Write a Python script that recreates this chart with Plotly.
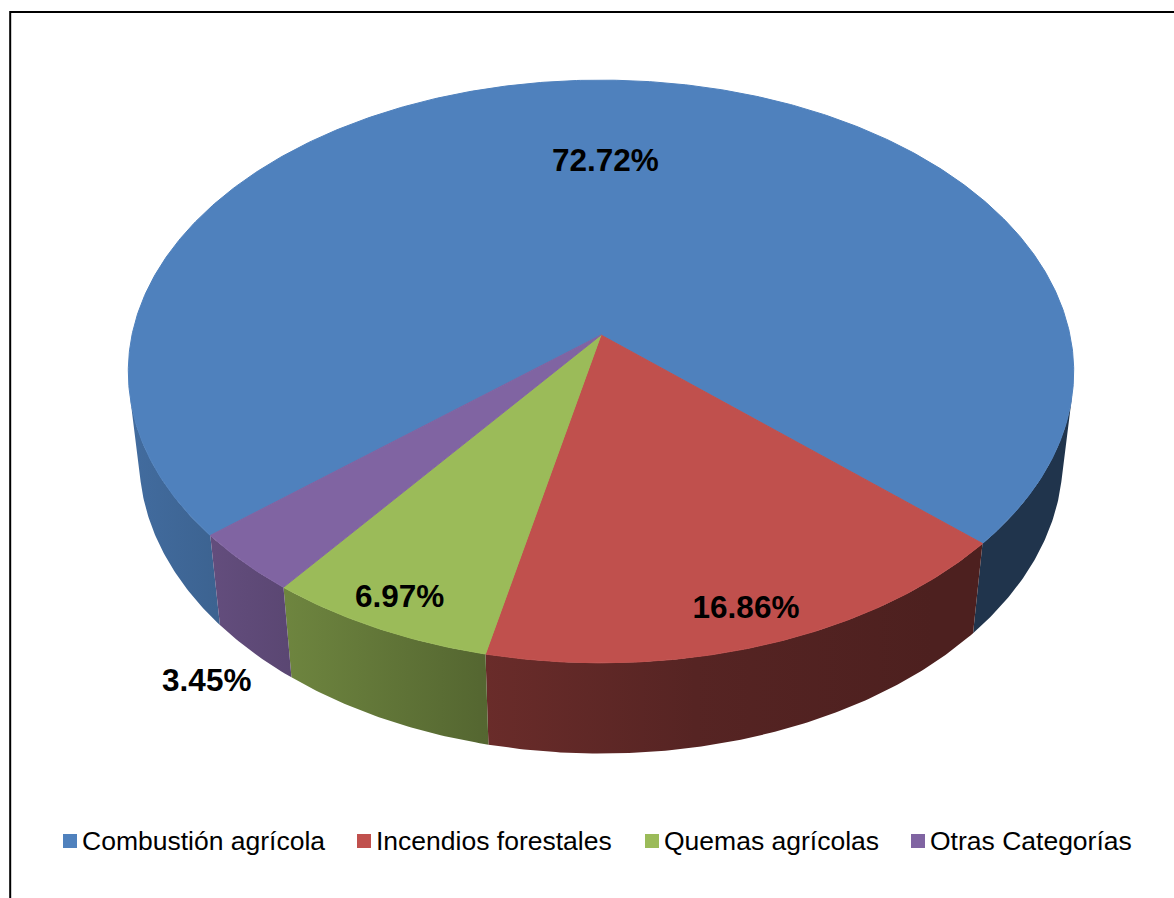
import numpy as np
import plotly.graph_objects as go

# ---- data -------------------------------------------------------------
categories = ["Combustión agrícola", "Incendios forestales", "Quemas agrícolas", "Otras Categorías"]
shares = [72.72, 16.86, 6.97, 3.45]
top_colors = ["#4F81BD", "#C0504D", "#9BBB59", "#8064A2"]

# ---- 3-D pie geometry (figure pixel space) -----------------------------
W, H = 1174, 898
CX, CY = 601.0, 335.0          # screen position of the pie centre
SCALE = 2964.0                 # focal length * pixel scale
DIST = 6.32                    # camera distance (in pie radii)
TILT = np.radians(37.7)        # camera elevation
THICK = 0.24                   # pie thickness (in pie radii)
FIRST_ANGLE = 230.0            # clockwise from the far edge

# label placement per slice: radius and height
label_r = [0.65, 0.90, 0.91, 1.12]
label_z = [0.0, 0.0, 0.0, -THICK]

# side shading: (fraction across pie width, brightness factor)
shade_stops = [(0.0, 0.84), (0.166, 0.71), (0.372, 0.55), (0.60, 0.45), (0.85, 0.40), (1.0, 0.40)]

# legend row: left edge of each key square, row centre, square size
legend_left = [63, 357, 645, 911]
legend_y = 841
legend_box = 14
FONT = "Liberation Sans, Arial"


def project(phi_deg, r, z):
    phi = np.radians(phi_deg)
    s, c = np.sin(TILT), np.cos(TILT)
    px = r * np.sin(phi)
    py = r * np.cos(phi)
    depth = DIST + py * c - z * s
    up = py * s + z * c
    return CX + SCALE * px / depth, CY - SCALE * up / depth


def hex_rgb(h):
    h = h.lstrip("#")
    return tuple(int(h[i:i + 2], 16) for i in (0, 2, 4))


def shaded(hexcol, f):
    r, g, b = hex_rgb(hexcol)
    return f"rgb({round(r * f)},{round(g * f)},{round(b * f)})"


def arc(a, b, r, z, step=0.5):
    n = max(int(abs(b - a) / step), 2) + 1
    ang = np.linspace(a, b, n)
    return project(ang, r, z)


# slice angular extents
total = sum(shares)
starts, ends = [], []
acc = FIRST_ANGLE
for v in shares:
    starts.append(acc)
    acc += 360.0 * v / total
    ends.append(acc)

# range of the rim that faces the camera
vis = np.degrees(np.arccos(-1.0 / (DIST * np.cos(TILT))))
vis_lo, vis_hi = vis, 360.0 - vis

# horizontal extent of the pie for the side gradient
ring_x, _ = arc(0, 360, 1.0, 0.0)
x_min, x_max = float(ring_x.min()), float(ring_x.max())

fig = go.Figure()

# rim (side walls) of every slice, front part only
for i, col in enumerate(top_colors):
    a, b = starts[i], ends[i]
    for k in (-360.0, 0.0, 360.0):
        lo = max(a, vis_lo + k)
        hi = min(b, vis_hi + k)
        if hi <= lo:
            continue
        tx, ty = arc(lo, hi, 1.0, 0.0)
        bx, by = arc(hi, lo, 1.0, -THICK)
        xs = np.concatenate([tx, bx, tx[:1]])
        ys = np.concatenate([ty, by, ty[:1]])
        fig.add_trace(go.Scatter(
            x=xs, y=ys, mode="lines", fill="toself",
            line=dict(width=0),
            fillgradient=dict(
                type="horizontal", start=x_min, stop=x_max,
                colorscale=[[p, shaded(col, f)] for p, f in shade_stops],
            ),
            hoverinfo="skip", showlegend=False,
        ))

# top faces
for i, col in enumerate(top_colors):
    ax, ay = arc(starts[i], ends[i], 1.0, 0.0)
    ox, oy = project(0.0, 0.0, 0.0)
    xs = np.concatenate([[ox], ax, [ox]])
    ys = np.concatenate([[oy], ay, [oy]])
    fig.add_trace(go.Scatter(
        x=xs, y=ys, mode="lines", fill="toself",
        fillcolor=col, line=dict(width=1, color=col),
        name=categories[i], hoverinfo="skip", showlegend=False,
    ))

# percentage labels
lx, ly, lt = [], [], []
for i, v in enumerate(shares):
    mid = (starts[i] + ends[i]) / 2.0
    x, y = project(mid, label_r[i], label_z[i])
    lx.append(x)
    ly.append(y)
    lt.append(f"{v:.2f}%")
fig.add_trace(go.Scatter(
    x=lx, y=ly, mode="text", text=lt,
    textfont=dict(family=FONT, size=31.5, color="black", weight="bold"),
    hoverinfo="skip", showlegend=False,
))

# legend row: coloured key squares and category names
shapes = []
annotations = []
for name, col, x0 in zip(categories, top_colors, legend_left):
    shapes.append(dict(
        type="rect", xref="x", yref="y",
        x0=x0, x1=x0 + legend_box,
        y0=legend_y - legend_box / 2, y1=legend_y + legend_box / 2,
        fillcolor=col, line=dict(width=0),
    ))
    annotations.append(dict(
        x=x0 + legend_box + 3, y=legend_y, xref="x", yref="y",
        text=name, showarrow=False, xanchor="left", yanchor="middle",
        font=dict(family=FONT, size=26.5, color="black"),
    ))

# chart frame
shapes.append(dict(
    type="rect", xref="x", yref="y", x0=10.2, y0=12, x1=W + 20, y1=H + 20,
    line=dict(color="black", width=2), fillcolor="rgba(0,0,0,0)", layer="above",
))

fig.update_layout(
    width=W, height=H, autosize=False,
    margin=dict(l=0, r=0, t=0, b=0),
    paper_bgcolor="white", plot_bgcolor="white",
    showlegend=False,
    xaxis=dict(range=[0, W], visible=False, fixedrange=True),
    yaxis=dict(range=[H, 0], visible=False, fixedrange=True),
    shapes=shapes,
    annotations=annotations,
)

fig.write_html("out.html")
